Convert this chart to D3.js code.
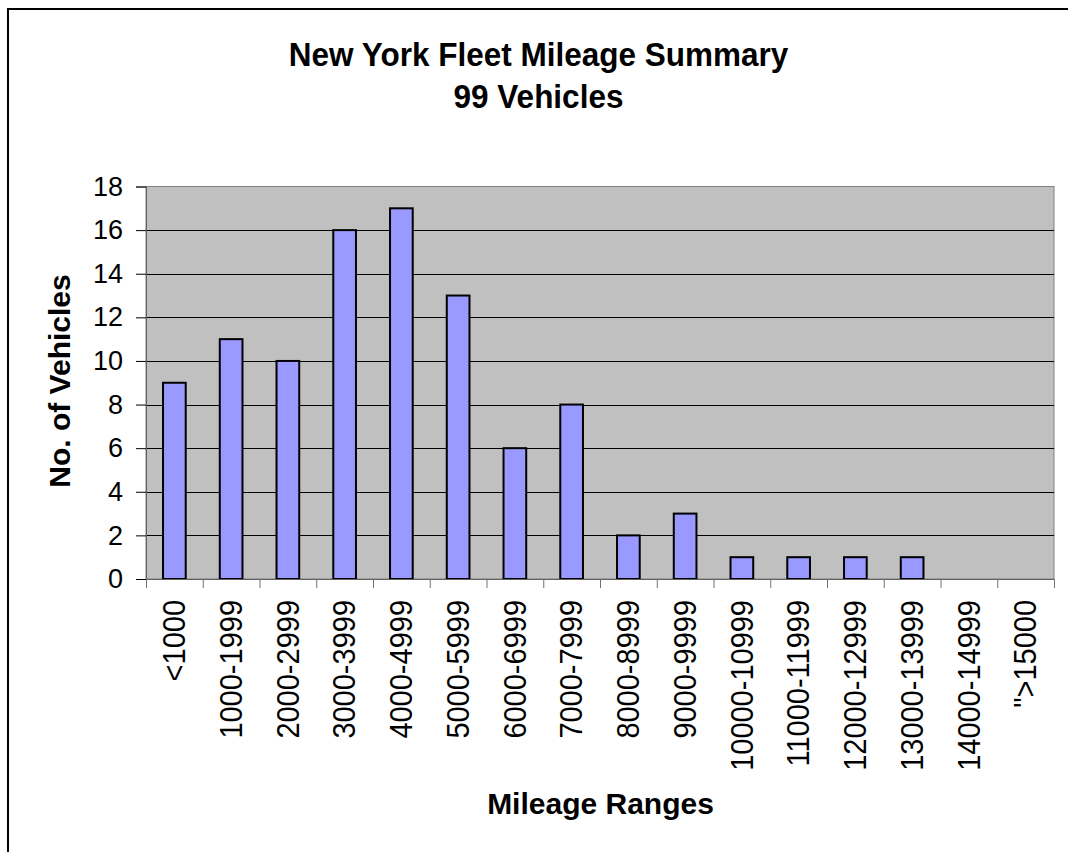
<!DOCTYPE html>
<html>
<head>
<meta charset="utf-8">
<script src="https://cdn.jsdelivr.net/npm/d3@7"></script>
<style>
  body { margin: 0; background: #fff; }
  text { font-family: "Liberation Sans", Arial, sans-serif; }
</style>
</head>
<body>
<svg id="chart" width="1068" height="852"></svg>
<script>
// mileage buckets and vehicle counts
var ranges = ["<1000", "1000-1999", "2000-2999", "3000-3999", "4000-4999", "5000-5999",
  "6000-6999", "7000-7999", "8000-8999", "9000-9999", "10000-10999", "11000-11999",
  "12000-12999", "13000-13999", "14000-14999", "\">15000"];
var vehicles = [9, 11, 10, 16, 17, 13, 6, 8, 2, 3, 1, 1, 1, 1, 0, 0];
var yTicks = [0, 2, 4, 6, 8, 10, 12, 14, 16, 18];
var titleLines = ["New York Fleet Mileage Summary", "99 Vehicles"];

var svg = d3.select("#chart");

// outer chart border (runs off the right/bottom edge)
svg.append("rect")
  .attr("x", 8).attr("y", 9)
  .attr("width", 1200).attr("height", 1000)
  .style("fill", "none")
  .style("stroke", "#000")
  .style("stroke-width", "2px");

var margin = { left: 146, top: 186.5, right: 1054, bottom: 579 };

var x = d3.scaleBand()
  .domain(ranges)
  .range([margin.left, margin.right])
  .paddingInner(0.6)
  .paddingOuter(0.3);

// category boundaries for the tick marks
var xEdges = d3.scaleLinear()
  .domain([0, ranges.length])
  .range([margin.left, margin.right]);

var y = d3.scaleLinear()
  .domain([0, 18])
  .range([margin.bottom, margin.top]);

// plot background
svg.append("rect")
  .attr("x", margin.left).attr("y", margin.top)
  .attr("width", margin.right - margin.left)
  .attr("height", margin.bottom - margin.top)
  .style("fill", "#c0c0c0")
  .style("stroke", "#808080")
  .style("stroke-width", "1px");

// gridlines
svg.append("g").selectAll("line")
  .data(yTicks.filter(function (d){ return d > 0 && d < 18; }))
  .enter().append("line")
  .attr("x1", margin.left).attr("x2", margin.right)
  .attr("y1", function (d){ return Math.round(y(d)) + 0.5; })
  .attr("y2", function (d){ return Math.round(y(d)) + 0.5; })
  .style("stroke", "#000")
  .style("stroke-width", "1px");

// bars
svg.append("g").selectAll("rect")
  .data(vehicles)
  .enter().append("rect")
  .attr("x", function (d, i){ return x(ranges[i]); })
  .attr("width", x.bandwidth())
  .attr("y", function (d){ return y(d); })
  .attr("height", function (d){ return y(0) - y(d); })
  .style("display", function (d){ return d > 0 ? null : "none"; })
  .style("fill", "#9999ff")
  .style("stroke", "#000")
  .style("stroke-width", "2px");

// y axis
var yAxisG = svg.append("g")
  .attr("transform", "translate(" + margin.left + ",0)")
  .call(d3.axisLeft(y).tickValues(yTicks).tickSize(10).tickPadding(13));
yAxisG.select(".domain").style("stroke", "#606060");
yAxisG.selectAll(".tick line").style("stroke", "#000");
yAxisG.selectAll("text")
  .style("font-size", "27px")
  .style("fill", "#000");

// x axis: boundary ticks
var xTickG = svg.append("g")
  .attr("transform", "translate(0," + margin.bottom + ")")
  .call(d3.axisBottom(xEdges).tickValues(d3.range(ranges.length + 1)).tickSize(9).tickFormat(""));
xTickG.select(".domain").style("stroke", "#606060");
xTickG.selectAll(".tick line").style("stroke", "#707070");

// x axis: rotated category labels
svg.append("g").selectAll("text")
  .data(ranges)
  .enter().append("text")
  .attr("transform", function (d){
    return "translate(" + (x(d) + x.bandwidth() / 2) + ",600) rotate(-90) scale(1,1.05)";
  })
  .attr("dy", "0.35em")
  .style("text-anchor", "end")
  .style("font-size", "29px")
  .text(function (d){ return d; });

// titles (slightly taller than wide, as in the picture)
svg.append("g").selectAll("text")
  .data(titleLines)
  .enter().append("text")
  .attr("transform", function (d, i){
    return "translate(538.5," + (66 + i * 42) + ") scale(1,1.07)";
  })
  .style("text-anchor", "middle")
  .style("font-size", "31.5px")
  .style("font-weight", "bold")
  .text(function (d){ return d; });

svg.append("text")
  .attr("transform", "translate(70,381) rotate(-90)")
  .style("text-anchor", "middle")
  .style("font-size", "30px")
  .style("font-weight", "bold")
  .text("No. of Vehicles");

svg.append("text")
  .attr("x", 600.5)
  .attr("y", 814)
  .style("text-anchor", "middle")
  .style("font-size", "30px")
  .style("font-weight", "bold")
  .text("Mileage Ranges");
</script>
</body>
</html>
